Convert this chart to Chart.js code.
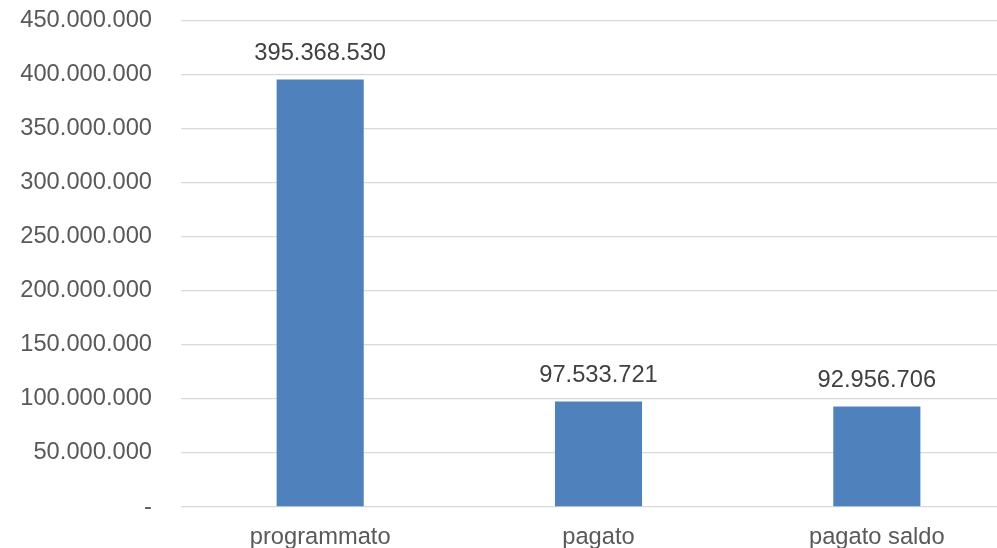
<!DOCTYPE html>
<html>
<head>
<meta charset="utf-8">
<script src="https://cdn.jsdelivr.net/npm/chart.js@4.4.1/dist/chart.umd.min.js"></script>
<style>
  html, body { margin: 0; padding: 0; background: #fff; overflow: hidden; }
  #wrap { width: 1016px; height: 548px; position: relative; }
</style>
</head>
<body>
<div id="wrap"><canvas id="chart_bars"></canvas></div>
<script>
// categories and values
var categories = ["programmato", "pagato", "pagato saldo"];
var values = [395368530, 97533721, 92956706];
var yTicks = [0, 50000000, 100000000, 150000000, 200000000, 250000000, 300000000, 350000000, 400000000, 450000000];

function fmtNum(v) {
    if (v == 0) return "-";
    return String(Math.round(v)).replace(/\B(?=(\d{3})+(?!\d))/g, ".");
}

////////// value labels above bars //////////
var barLabels = {
    id: 'barLabels',
    afterDatasetsDraw: function (chart) {
        var ctx = chart.ctx;
        var meta = chart.getDatasetMeta(0);
        ctx.save();
        ctx.font = '23.7px "Liberation Sans", Arial, sans-serif';
        ctx.fillStyle = '#404040';
        ctx.textAlign = 'center';
        ctx.textBaseline = 'middle';
        for (var i = 0; i < meta.data.length; i++) {
            var bar = meta.data[i];
            ctx.fillText(fmtNum(values[i]), bar.x, bar.y - 26);
        }
        ctx.restore();
    }
};

var chart = new Chart(document.getElementById('chart_bars').getContext('2d'), {
    type: 'bar',
    data: {
        labels: categories,
        datasets: [{
            data: values,
            backgroundColor: '#4F81BD',
            borderWidth: 0,
            categoryPercentage: 1,
            barPercentage: 0.313
        }]
    },
    options: {
        responsive: true,
        maintainAspectRatio: false,
        animation: false,
        layout: { padding: { top: 20.5, left: 0, right: 0, bottom: 0 } },
        plugins: { legend: { display: false }, tooltip: { enabled: false } },
        scales: {
            x: {
                grid: { display: false },
                border: { display: false },
                ticks: {
                    color: '#595959',
                    font: { family: '"Liberation Sans", Arial, sans-serif', size: 23.7 },
                    padding: 8,
                    maxRotation: 0
                },
                afterFit: function (scale) { scale.height = 41; }
            },
            y: {
                min: 0,
                max: 450000000,
                afterBuildTicks: function (scale) {
                    scale.ticks = yTicks.map(function (v) { return { value: v }; });
                },
                grid: { color: '#D9D9D9', lineWidth: 1.3, drawTicks: false },
                border: { display: false },
                ticks: {
                    color: '#595959',
                    font: { family: '"Liberation Sans", Arial, sans-serif', size: 23.7 },
                    padding: 29,
                    callback: function (v) { return fmtNum(v); }
                },
                afterFit: function (scale) {
                    scale.width = 181;
                    scale.paddingTop = 0;
                    scale.paddingBottom = 0;
                }
            }
        }
    },
    plugins: [barLabels]
});
</script>
</body>
</html>
